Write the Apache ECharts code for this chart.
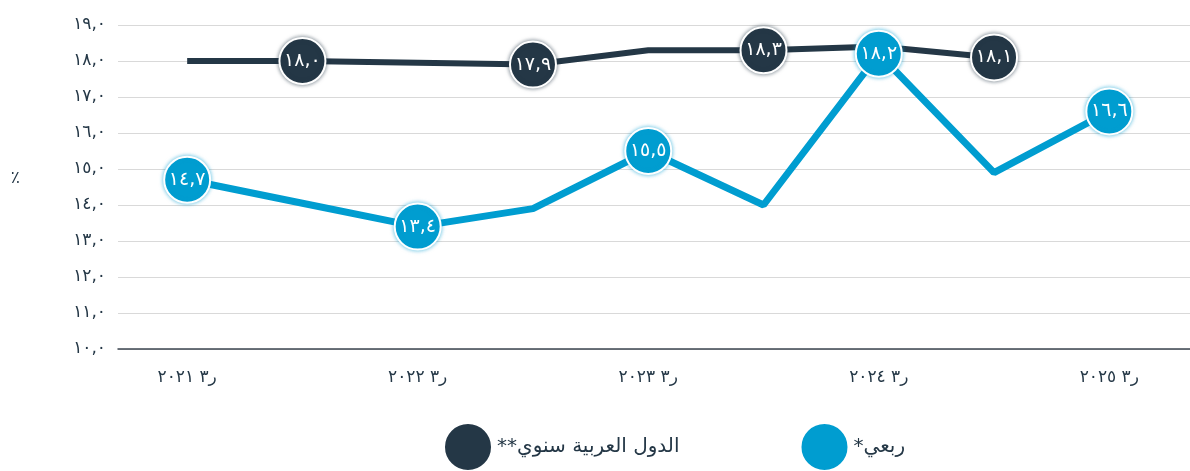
<!DOCTYPE html>
<html>
<head>
<meta charset="utf-8">
<script src="https://cdn.jsdelivr.net/npm/echarts@6/dist/echarts.min.js"></script>
<style>
  html, body { margin: 0; padding: 0; background: #fff; }
  #chart { width: 1190px; height: 471px; }
</style>
</head>
<body>
<div id="chart"></div>
<script>
// x tick labels (shown under every second point)
const xLabels = ['ر٣ ٢٠٢١', 'ر٣ ٢٠٢٢', 'ر٣ ٢٠٢٣', 'ر٣ ٢٠٢٤', 'ر٣ ٢٠٢٥']
const xLabelAt = [0, 2, 4, 6, 8]

// series values (point index 0..8)
const arabYearly = [18.0, 18.0, 17.95, 17.9, 18.3, 18.3, 18.4, 18.1]
const quarterly = [14.7, 14.05, 13.4, 13.9, 15.5, 14.0, 18.2, 14.9, 16.6]
// which points carry a value bubble
const arabYearlyLabeled = [1, 3, 5, 7]
const quarterlyLabeled = [0, 2, 4, 6, 8]

const seriesNames = ['\u202Bالدول العربية سنوي**\u202C', '\u202Bربعي*\u202C']

const DARK = '#243746'
const BLUE = '#009dd0'
const FONT = 'DejaVu Sans'

const toArabic = s => String(s).replace(/[0-9]/g, d => '٠١٢٣٤٥٦٧٨٩'[d]).replace('.', ',')

function makeLine(name, values, labeled, color, width, glow) {
  return {
    name: name,
    type: 'line',
    data: values.map((v, i) => [i, v]),
    showAllSymbol: true,
    symbol: 'circle',
    symbolSize: (val, params) => labeled.indexOf(params.dataIndex) >= 0 ? 46 : 0,
    lineStyle: { color: color, width: width },
    itemStyle: {
      color: color,
      borderColor: '#fff',
      borderWidth: 2,
      shadowColor: glow,
      shadowBlur: 4
    },
    label: {
      show: true,
      position: 'inside',
      color: '#fff',
      fontSize: 19,
      fontFamily: FONT,
      formatter: p => labeled.indexOf(p.dataIndex) >= 0 ? toArabic(p.value[1].toFixed(1)) : ''
    },
    emphasis: { disabled: true },
    animation: false
  }
}

const chart = echarts.init(document.getElementById('chart'))
chart.setOption({
  textStyle: { fontFamily: FONT },
  grid: { left: 118, right: 0, top: 25, bottom: 122 },
  legend: {
    left: 438,
    top: 417,
    itemWidth: 48,
    itemHeight: 48,
    itemGap: 120,
    icon: 'circle',
    textStyle: { fontSize: 20, color: DARK, fontFamily: FONT },
    data: seriesNames
  },
  xAxis: {
    type: 'value',
    min: -0.6,
    max: 8.7,
    splitLine: { show: false },
    axisTick: { show: false },
    axisLine: { show: true, lineStyle: { color: '#3c4650', width: 1.5 } },
    axisLabel: {
      customValues: xLabelAt,
      formatter: v => xLabels[xLabelAt.indexOf(Math.round(v))] || '',
      fontSize: 17,
      color: DARK,
      margin: 20,
      fontFamily: FONT
    }
  },
  yAxis: {
    type: 'value',
    min: 10,
    max: 19,
    interval: 1,
    name: '٪',
    nameLocation: 'middle',
    nameRotate: 0,
    nameGap: 98,
    nameTextStyle: { fontSize: 17, color: DARK, fontFamily: FONT, verticalAlign: 'bottom' },
    axisLine: { show: false },
    axisTick: { show: false },
    splitLine: { lineStyle: { color: '#d9d9d9', width: 1 } },
    axisLabel: {
      formatter: v => toArabic(v.toFixed(1)),
      fontSize: 17,
      color: DARK,
      margin: 12,
      fontFamily: FONT
    }
  },
  series: [
    makeLine(seriesNames[0], arabYearly, arabYearlyLabeled, DARK, 6, 'rgba(36,55,70,0.6)'),
    makeLine(seriesNames[1], quarterly, quarterlyLabeled, BLUE, 7, 'rgba(0,157,208,0.6)')
  ]
})
</script>
</body>
</html>
